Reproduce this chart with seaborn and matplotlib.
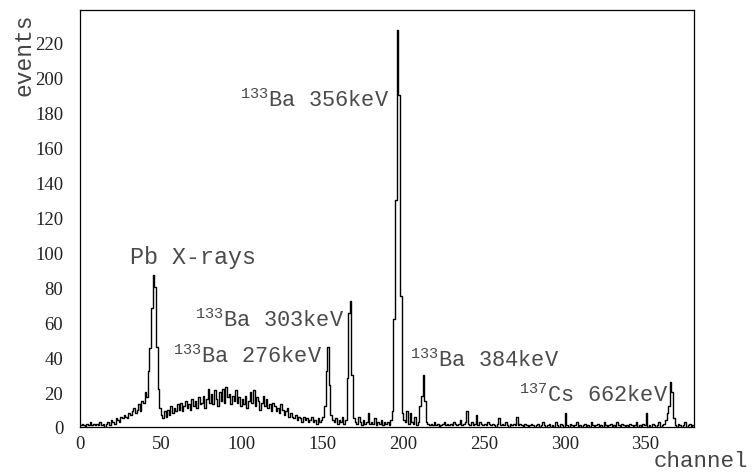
import numpy as np
import pandas as pd
import matplotlib
matplotlib.use("Agg")
import matplotlib.pyplot as plt
import seaborn as sns
from matplotlib.ticker import MultipleLocator

# ---- data: counts per channel (1-channel bins, channels 0..379) ----
counts = [
    1, 2, 1, 0, 2, 1, 3, 1, 2, 1,        # 0
    2, 1, 3, 1, 2, 0, 2, 3, 1, 4,        # 10
    3, 2, 5, 4, 3, 6, 5, 7, 6, 5,        # 20
    8, 7, 9, 11, 8, 10, 13, 9, 15, 14,   # 30
    20, 17, 32, 45, 68, 87, 80, 46, 22, 11,  # 40
    7, 5, 9, 6, 10, 7, 12, 8, 11, 9,     # 50
    13, 10, 14, 9, 12, 15, 11, 13, 10, 16,   # 60
    12, 15, 11, 17, 13, 14, 18, 11, 16, 22,  # 70
    14, 19, 13, 21, 16, 12, 20, 15, 22, 14,  # 80
    23, 17, 19, 13, 18, 15, 21, 14, 17, 12,  # 90
    16, 13, 18, 11, 15, 20, 14, 21, 12, 17,  # 100
    15, 10, 14, 18, 12, 16, 11, 13, 9, 14,   # 110
    12, 9, 11, 8, 13, 10, 7, 9, 11, 6,       # 120
    8, 6, 5, 7, 4, 6, 5, 3, 6, 4,            # 130
    5, 3, 4, 6, 3, 4, 2, 5, 3, 4,            # 140
    6, 12, 32, 46, 24, 7, 4, 3, 5, 2,        # 150
    4, 3, 6, 2, 4, 28, 65, 72, 30, 5,        # 160
    3, 2, 6, 3, 1, 4, 2, 3, 8, 2,            # 170
    3, 2, 5, 1, 3, 2, 4, 1, 3, 2,            # 180
    3, 1, 4, 9, 62, 130, 227, 190, 75, 8,    # 190
    4, 3, 9, 2, 8, 3, 2, 6, 1, 3,            # 200
    12, 18, 30, 15, 3, 2, 1, 2, 1, 3,        # 210
    1, 2, 0, 1, 2, 3, 1, 2, 1, 2,            # 220
    1, 3, 2, 1, 2, 4, 1, 2, 3, 9,            # 230
    2, 1, 3, 1, 2, 7, 1, 3, 2, 1,            # 240
    2, 1, 3, 2, 1, 2, 1, 0, 2, 5,            # 250
    1, 2, 1, 3, 1, 0, 2, 1, 2, 1,            # 260
    6, 1, 2, 1, 0, 2, 1, 0, 1, 2,            # 270
    1, 0, 1, 2, 0, 1, 3, 1, 0, 1,            # 280
    2, 0, 1, 0, 3, 1, 0, 2, 1, 0,            # 290
    8, 1, 0, 2, 1, 0, 1, 3, 0, 1,            # 300
    0, 1, 2, 0, 1, 0, 3, 1, 0, 1,            # 310
    2, 0, 1, 0, 3, 1, 0, 1, 2, 0,            # 320
    1, 0, 3, 1, 0, 2, 1, 0, 1, 0,            # 330
    2, 1, 0, 1, 3, 0, 1, 0, 2, 1,            # 340
    8, 0, 1, 0, 2, 1, 0, 1, 3, 0,            # 350
    1, 2, 4, 8, 12, 26, 20, 5, 1, 0,         # 360
    2, 1, 0, 1, 3, 0, 1, 2, 0, 1,            # 370
]
n_channels = len(counts)
channel_centers = np.arange(n_channels) + 0.5

# peak labels: (superscript, text, x, y)
label_sup = ["", "133", "133", "133", "133", "137"]
label_txt = ["Pb X-rays", "Ba 356keV", "Ba 303keV", "Ba 276keV", "Ba 384keV", "Cs 662keV"]
label_x = [31.0, 99.1, 71.3, 57.6, 204.5, 271.4]
label_y = [93.7, 183.4, 57.7, 37.1, 34.9, 14.9]

x_title = "channel"
y_title = "events"

# ---- plot ----
sns.set_style("white")
plt.rcParams["mathtext.fontset"] = "custom"
plt.rcParams["mathtext.rm"] = "Liberation Mono"
plt.rcParams["mathtext.it"] = "Liberation Mono"

W, H = 752, 477
fig = plt.figure(figsize=(W / 100, H / 100), dpi=100)
ax = fig.add_axes([80 / W, 1 - 428 / H, (694 - 80) / W, (428 - 11) / H])

df = pd.DataFrame({"channel": channel_centers, "events": counts})
sns.histplot(data=df, x="channel", weights="events", binwidth=1,
             binrange=(0, n_channels), element="step", fill=False,
             color="black", linewidth=1.0, ax=ax)

ax.set_xlim(0, 380)
ax.set_ylim(0, 238.3)

for s in ax.spines.values():
    s.set_color("black")
    s.set_linewidth(0.9)

ax.xaxis.set_major_locator(MultipleLocator(50))
ax.xaxis.set_minor_locator(MultipleLocator(10))
ax.yaxis.set_major_locator(MultipleLocator(20))
ax.yaxis.set_minor_locator(MultipleLocator(4))
ax.tick_params(axis="both", which="both", direction="in", color="black", width=0.9)
ax.tick_params(axis="y", which="major", length=13.5, pad=12)
ax.tick_params(axis="y", which="minor", length=7)
ax.tick_params(axis="x", which="major", length=9, pad=6)
ax.tick_params(axis="x", which="minor", length=4.5)
ax.tick_params(top=False, right=False, which="both")
for lab in ax.get_xticklabels() + ax.get_yticklabels():
    lab.set_fontfamily("Liberation Serif")
    lab.set_fontsize(13.5)
    lab.set_color("#222222")

ax.set_xlabel("")
ax.set_ylabel("")
fig.text(12 / W, 1 - 13 / H, y_title, rotation=90, ha="left", va="top",
         fontfamily="Liberation Mono", fontsize=16.5, color="#444444")
fig.text(748 / W, 1 - 462 / H, x_title, ha="right", va="center",
         fontfamily="Liberation Mono", fontsize=16.2, color="#444444")

for sup, txt, x, y in zip(label_sup, label_txt, label_x, label_y):
    s = (r"$^{%s}$" % sup + txt) if sup else txt
    ax.text(x, y, s, ha="left", va="baseline", fontfamily="Liberation Mono",
            fontsize=15.8 if sup else 16.8, color="#4a4a4a")

fig.savefig("out.png", dpi=100)
